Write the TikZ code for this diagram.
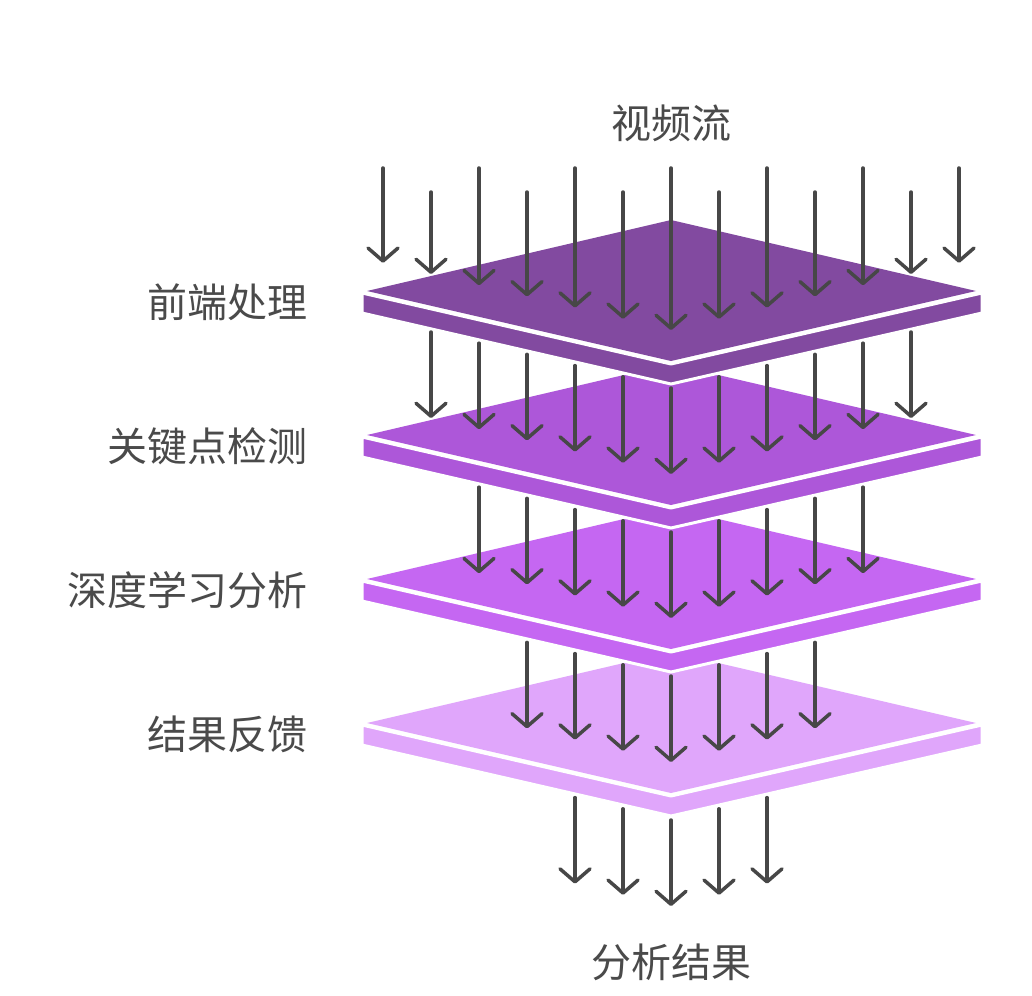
\documentclass[tikz,border=0pt]{standalone}
\usepackage{fontspec}
\newfontfamily\cjk{Noto Sans CJK SC}
\usetikzlibrary{arrows.meta}

\definecolor{layerA}{HTML}{824AA0}
\definecolor{layerB}{HTML}{AD57D9}
\definecolor{layerC}{HTML}{C567F2}
\definecolor{layerD}{HTML}{E0A6FB}
\definecolor{inkgray}{HTML}{474747}
\definecolor{textgray}{HTML}{4A4A4A}

\begin{document}
\begin{tikzpicture}[x=1pt, y=-1pt,
    >={Straight Barb[length=13pt, width=30pt, line cap=round, line join=round]},
    flow/.style={->, line width=3.5pt, draw=inkgray, line cap=round},
    lbl/.style={font=\cjk\fontsize{40}{46}\selectfont, text=textgray, inner sep=0pt}]
  \useasboundingbox (0,0) rectangle (1032,995);
  \fill[white] (0,0) rectangle (1032,995);

  % layers, lowest first
  \foreach \col/\dy in {layerD/432, layerC/288, layerB/144, layerA/0} {
    \filldraw[fill=\col, draw=white, line width=3pt, line join=round]
      (362,293+\dy) -- (671,364+\dy) -- (982,293+\dy) -- (982,313+\dy)
      -- (671,384+\dy) -- (362,313+\dy) -- cycle;
    \fill[\col] (671,220+\dy) -- (976,291+\dy) -- (671,361+\dy) -- (367,291+\dy) -- cycle;
  }

  % incoming stream
  \foreach \i in {-6,...,6} {
    \pgfmathsetmacro{\xa}{671+48*\i}
    \pgfmathsetmacro{\ya}{isodd(\i) ? 192 : 168}
    \pgfmathsetmacro{\yb}{330-11.2*abs(\i)}
    \draw[flow] (\xa,\ya) -- (\xa,\yb);
  }

  % between layers and out
  \foreach \k/\n in {0/5, 1/4, 2/3, 3/2} {
    \foreach \i in {-\n,...,\n} {
      \pgfmathsetmacro{\xa}{671+48*\i}
      \pgfmathsetmacro{\ya}{388+144*\k-11.2*abs(\i)}
      \pgfmathsetmacro{\yb}{474+144*\k-11.2*abs(\i)}
      \draw[flow] (\xa,\ya) -- (\xa,\yb);
    }
  }

  % labels
  \node[lbl] (src) at (671,123) {视频流};
  \node[lbl, anchor=east] (front) at (308,302) {前端处理};
  \node[lbl, anchor=east] (keypt) at (308,446) {关键点检测};
  \node[lbl, anchor=east] (deep) at (308,590) {深度学习分析};
  \node[lbl, anchor=east] (feed) at (308,734) {结果反馈};
  \node[lbl] (out) at (671,962) {分析结果};
\end{tikzpicture}
\end{document}
